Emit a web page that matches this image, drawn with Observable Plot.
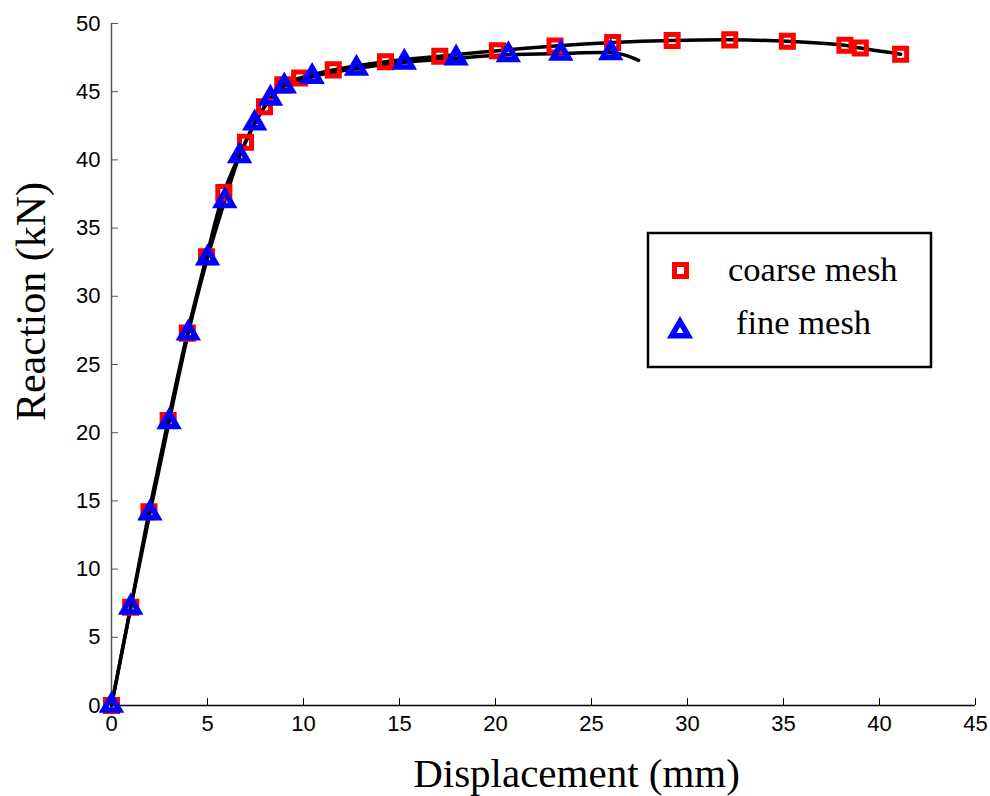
<!DOCTYPE html>
<html><head><meta charset="utf-8">
<script src="https://cdn.jsdelivr.net/npm/d3@7"></script>
<script src="https://cdn.jsdelivr.net/npm/@observablehq/plot@0.6"></script>
<style>
body{margin:0;background:#fff;}
#wrap{position:relative;width:990px;height:796px;}
#legend{position:absolute;left:0;top:0;}
</style></head>
<body><div id="wrap"></div>
<script>
// coarse mesh
const coarseX = [0, 1.0, 1.95, 2.95, 3.95, 4.95, 5.85, 6.98, 7.97, 8.92, 9.8, 11.55, 14.27, 17.1, 20.1, 23.1, 26.1, 29.2, 32.2, 35.2, 38.2, 39.0, 41.1];
const coarseY = [0, 7.2, 14.2, 20.9, 27.3, 32.9, 37.6, 41.3, 43.9, 45.5, 46.0, 46.6, 47.2, 47.6, 48.0, 48.35, 48.6, 48.75, 48.8, 48.7, 48.4, 48.2, 47.75];
// fine mesh
const fineX = [0, 1.0, 2.0, 3.0, 4.0, 5.0, 5.9, 6.67, 7.46, 8.28, 9.0, 10.45, 12.76, 15.25, 17.95, 20.67, 23.4, 26.0];
const fineY = [0, 7.2, 14.1, 20.8, 27.3, 32.8, 37.0, 40.3, 42.7, 44.5, 45.4, 46.1, 46.7, 47.15, 47.45, 47.7, 47.8, 47.85];
// fine mesh curve tail (beyond last marker)
const fineTailX = [26.7, 27.45];
const fineTailY = [47.7, 47.3];

const xTicks = [0, 5, 10, 15, 20, 25, 30, 35, 40, 45];
const yTicks = [0, 5, 10, 15, 20, 25, 30, 35, 40, 45, 50];
const xLabel = "Displacement (mm)";
const yLabel = "Reaction (kN)";
const seriesNames = ["coarse mesh", "fine mesh"];

const coarse = coarseX.map((x, i) => ({x, y: coarseY[i]}));
const fine = fineX.map((x, i) => ({x, y: fineY[i]}));
const fineLine = fine.concat(fineTailX.map((x, i) => ({x, y: fineTailY[i]})));

const serif = "'Liberation Serif', 'Times New Roman', serif";

const chart = Plot.plot({
  width: 990, height: 796,
  marginLeft: 111, marginRight: 15, marginTop: 23, marginBottom: 91,
  x: {domain: [0, 45]},
  y: {domain: [0, 50]},
  style: {fontFamily: "'Liberation Sans', Arial, sans-serif", fontSize: "22px", background: "white", overflow: "visible", color: "#000"},
  marks: [
    Plot.axisX(xTicks, {tickSize: 0, tickPadding: 10, label: null, fontSize: 22}),
    Plot.axisY(yTicks, {tickSize: 0, tickPadding: 11, label: null, fontSize: 22}),
    Plot.tickX(xTicks, {x: d => d, insetTop: 675, stroke: "#000", strokeWidth: 1}),
    Plot.tickY(yTicks, {y: d => d, insetRight: 857, stroke: "#555", strokeWidth: 1}),
    Plot.ruleY([0], {stroke: "#000", strokeWidth: 1.5}),
    Plot.ruleX([0], {stroke: "#555", strokeWidth: 1.5}),
    Plot.line(coarse, {x: "x", y: "y", curve: "catmull-rom", stroke: "#000", strokeWidth: 3.5}),
    Plot.line(fineLine, {x: "x", y: "y", curve: "catmull-rom", stroke: "#000", strokeWidth: 3.5}),
    Plot.dot(coarse, {x: "x", y: "y", symbol: "square", r: 6.8, stroke: "#ff0000", strokeWidth: 5, fill: "none"}),
    Plot.dot(fine, {x: "x", y: "y", symbol: "triangle", r: 5.9, stroke: "#0000ff", strokeWidth: 5.5, fill: "none"}),
    Plot.text([xLabel], {text: d => d, frameAnchor: "bottom", lineAnchor: "middle", textAnchor: "middle", dx: 33, dy: 68, fontFamily: serif, fontSize: 41, fill: "#000"}),
    Plot.text([yLabel], {text: d => d, frameAnchor: "left", textAnchor: "middle", lineAnchor: "middle", rotate: -90, dx: -80, dy: -63, fontFamily: serif, fontSize: 42, fill: "#000"})
  ]
});
const wrap = document.getElementById("wrap");
wrap.appendChild(chart);

// legend overlay
const lg = d3.select(wrap).append("svg").attr("id", "legend").attr("width", 990).attr("height", 796);
lg.append("rect").attr("x", 648).attr("y", 233).attr("width", 283).attr("height", 134)
  .attr("fill", "#fff").attr("stroke", "#000").attr("stroke-width", 2.5);
lg.append("path").attr("transform", "translate(680.5,270.5)")
  .attr("d", d3.symbol(d3.symbolSquare, 144)())
  .attr("fill", "none").attr("stroke", "#ff0000").attr("stroke-width", 5);
lg.append("path").attr("transform", "translate(680,331)")
  .attr("d", d3.symbol(d3.symbolTriangle, 120)())
  .attr("fill", "none").attr("stroke", "#0000ff").attr("stroke-width", 5.5);
lg.append("text").attr("x", 728).attr("y", 281).text(seriesNames[0])
  .attr("font-family", serif).attr("font-size", 34.5).attr("fill", "#000");
lg.append("text").attr("x", 736).attr("y", 334).text(seriesNames[1])
  .attr("font-family", serif).attr("font-size", 34.5).attr("fill", "#000");
</script>
</body></html>
